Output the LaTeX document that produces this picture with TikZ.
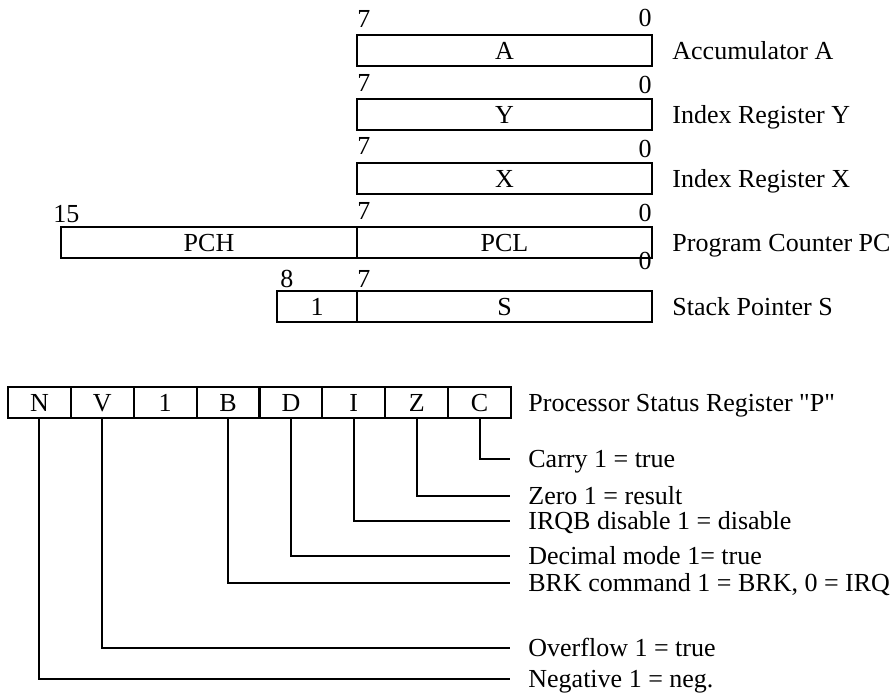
\documentclass[tikz,border=0pt]{standalone}
\usepackage{fontspec}
\setmainfont{Liberation Serif}
\tikzset{
regbox/.style={draw,line width=1.1pt,minimum height=15.5pt,inner sep=0pt,outer sep=0pt,text height=8.6pt,text depth=0pt},
cell/.style={regbox,minimum width=31.44pt},
bitno/.style={inner sep=0pt},
reglabel/.style={anchor=west,inner sep=0pt,text height=8.6pt,text depth=0pt},
flaglabel/.style={anchor=west,inner xsep=9pt,inner ysep=0pt,text height=8.6pt,text depth=0pt},
link/.style={line width=1pt}
}
\begin{document}
\begin{tikzpicture}[x=.5pt,y=-.5pt,font=\fontsize{13}{15}\selectfont]
\useasboundingbox (0,0) rectangle (894,695);
% 8 bit registers A, Y, X
\foreach \r/\yy/\sv/\zr/\txt in {A/50.5/28/27/Accumulator A,Y/114.5/92/94/Index Register Y,X/178.5/155/158/Index Register X}{
\node[regbox,minimum width=147.5pt] (\r) at (504.5,\yy) {\r};
\node[bitno,anchor=base west] (\r7) at (357,\sv) {7};
\node[bitno,anchor=base east] (\r0) at (652,\zr) {0};
\node[reglabel] (l\r) at (672,\yy) {\txt};
}
% program counter
\node[regbox,minimum width=148pt] (PCH) at (209,242.5) {PCH};
\node[regbox,minimum width=147.5pt] (PCL) at (504.5,242.5) {PCL};
\node[bitno,anchor=base west] (pc15) at (53,223) {15};
\node[bitno,anchor=base west] (pc7) at (357,220) {7};
\node[bitno,anchor=base east] (pc0) at (652,222) {0};
\node[reglabel] (lPC) at (672,242.5) {Program Counter PC};
% stack pointer
\node[regbox,minimum width=40pt] (S1) at (317,306.5) {1};
\node[regbox,minimum width=147.5pt] (S) at (504.5,306.5) {S};
\node[bitno,anchor=base west] (s8) at (280,287) {8};
\node[bitno,anchor=base west] (s7) at (357,287) {7};
\node[bitno,anchor=base east] (s0) at (652,270) {0};
\node[reglabel] (lS) at (672,306.5) {Stack Pointer S};
% status register P
\foreach \f [count=\i] in {N,V,1,B,D,I,Z,C}
\node[cell] (f\f) at ({8+62.875*(\i-0.5)},402.5) {\f};
\node[reglabel] (lP) at (528,402.5) {Processor Status Register \textquotedbl P\textquotedbl};
% flag lines
\foreach \f/\yy/\txt in {C/459/{Carry 1 = true},Z/496/{Zero 1 = result},I/521/{IRQB disable 1 = disable},D/556/{Decimal mode 1= true},B/583/{BRK command 1 = BRK, 0 = IRQ},V/648/{Overflow 1 = true},N/679/{Negative 1 = neg.}}{
\node[flaglabel] (l\f) at (510,\yy) {\txt};
\draw[link] (f\f.south) |- (l\f.west);
}
\end{tikzpicture}
\end{document}
